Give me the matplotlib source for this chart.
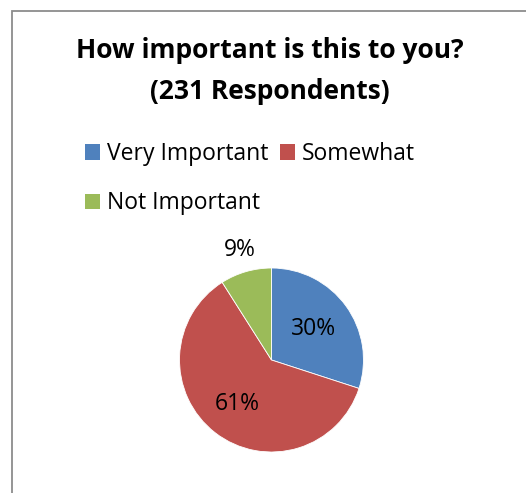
import numpy as np
import matplotlib.pyplot as plt
from matplotlib.patches import Rectangle, Patch

plt.rcParams["font.family"] = ["Open Sans", "DejaVu Sans"]

categories = ["Very Important", "Somewhat", "Not Important"]
shares = [30, 61, 9]
colors = ["#4F81BD", "#C0504D", "#9BBB59"]
# label distance from centre as a fraction of the radius
label_dist = [0.57, 0.60, 1.25]
title = "How important is this to you?\n(231 Respondents)"

W, H = 526, 493
fig = plt.figure(figsize=(W / 100, H / 100), dpi=100)

# chart frame (only left and top edges fall inside the image)
fig.patches.append(Rectangle((12 / W, -0.1), 1.2, (H - 11) / H + 0.1,
                             transform=fig.transFigure, fill=False,
                             edgecolor="#8C8C8C", lw=1.3))

fig.text(270 / W, 1 - 71 / H, title, ha="center", va="center",
         fontsize=19, fontweight="bold", linespacing=1.65)

# pie
cx, cy, r = 271.5, 360, 92
ax = fig.add_axes([(cx - r) / W, (H - cy - r) / H, 2 * r / W, 2 * r / H])
wedges, _ = ax.pie(shares, colors=colors, startangle=90, counterclock=False,
                   wedgeprops=dict(edgecolor="white", linewidth=0.6))
ax.set_xlim(-1, 1)
ax.set_ylim(-1, 1)
ax.set_aspect("equal")
ax.axis("off")

for w, s, d in zip(wedges, shares, label_dist):
    mid = np.deg2rad((w.theta1 + w.theta2) / 2)
    ax.text(d * np.cos(mid), d * np.sin(mid), f"{s}%", ha="center",
            va="center", fontsize=16.5, clip_on=False)

# legend: order so that columns fill as Very/Not | Somewhat
order = [0, 2, 1]
handles = [Patch(facecolor=colors[i], label=categories[i]) for i in order]
fig.legend(handles=handles, ncol=2, loc="upper left",
           bbox_to_anchor=(85 / W, 1 - 142 / H), frameon=False,
           fontsize=16.5, handlelength=0.65, handleheight=0.65,
           handletextpad=0.3, columnspacing=0.5, labelspacing=1.1,
           borderpad=0, borderaxespad=0)

fig.savefig("out.png", dpi=100)
